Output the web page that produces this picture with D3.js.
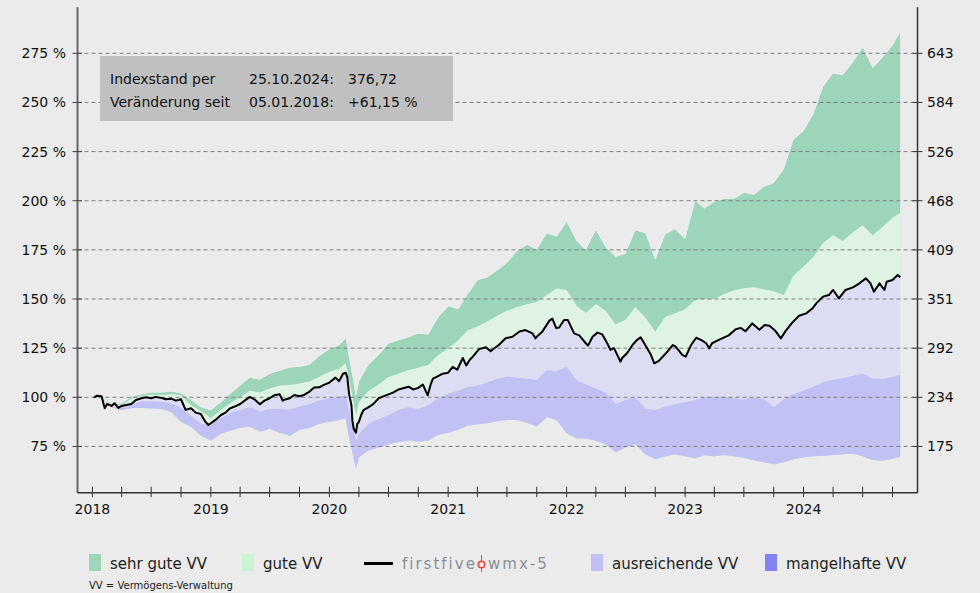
<!DOCTYPE html>
<html>
<head>
<meta charset="utf-8">
<script src="https://cdn.jsdelivr.net/npm/d3@7"></script>
<style>
  body { margin: 0; background: #ebebeb; }
  svg { display: block; font-family: "DejaVu Sans", sans-serif; }
</style>
</head>
<body>
<div id="chart"></div>
<script>
const width = 980;
const height = 593;

// band dates (month starts + crash points)
const bandDates = [
  "2018-01-05","2018-02-01","2018-03-01","2018-04-01","2018-05-01","2018-06-01","2018-07-01","2018-08-01","2018-09-01","2018-10-01","2018-11-01","2018-12-01",
  "2019-01-01","2019-02-01","2019-03-01","2019-04-01","2019-05-01","2019-06-01","2019-07-01","2019-08-01","2019-09-01","2019-10-01","2019-11-01","2019-12-01",
  "2020-01-01","2020-02-01","2020-02-20","2020-03-01","2020-03-23","2020-04-01","2020-05-01","2020-06-01","2020-07-01","2020-08-01","2020-09-01","2020-10-01","2020-11-01","2020-12-01",
  "2021-01-01","2021-02-01","2021-03-01","2021-04-01","2021-05-01","2021-06-01","2021-07-01","2021-08-01","2021-09-01","2021-10-01","2021-11-01","2021-12-01",
  "2022-01-01","2022-02-01","2022-03-01","2022-04-01","2022-05-01","2022-06-01","2022-07-01","2022-08-01","2022-09-01","2022-10-01","2022-11-01","2022-12-01",
  "2023-01-01","2023-02-01","2023-03-01","2023-04-01","2023-05-01","2023-06-01","2023-07-01","2023-08-01","2023-09-01","2023-10-01","2023-11-01","2023-12-01",
  "2024-01-01","2024-02-01","2024-03-01","2024-04-01","2024-05-01","2024-06-01","2024-07-01","2024-08-01","2024-09-01","2024-10-01","2024-10-25"
];

// upper edge of "sehr gute VV"
const sehrGuteTop = [
  100.0,100.2,97.0,96.8,100.3,101.6,102.5,102.5,103.0,102.0,98.6,95.0,
  93.4,97.5,101.5,106.0,110.0,109.0,112.0,113.5,115.2,115.5,116.5,121.0,
  124.5,126.6,130.0,121.0,100.5,108.0,116.5,121.5,127.3,129.0,130.5,132.5,132.0,140.6,
  146.3,144.8,152.0,159.5,161.0,164.5,168.5,174.3,177.6,175.0,183.5,181.7,
  189.3,179.5,174.9,185.1,176.5,171.5,173.0,185.0,183.5,170.0,183.0,185.5,
  180.5,200.0,196.0,199.5,201.0,201.0,204.0,203.0,207.0,209.0,216.0,231.0,
  235.5,244.4,258.0,264.7,264.0,270.5,278.0,267.5,273.0,279.0,285.9
];

// border between "sehr gute" and "gute"
const guteTop = [
  100.0,100.3,96.5,96.0,99.2,100.8,101.3,101.2,101.5,101.0,96.0,93.0,
  89.5,93.5,97.0,100.0,103.3,102.5,104.5,106.0,106.3,107.0,108.0,110.5,
  113.0,114.5,117.3,110.0,91.0,97.5,103.5,106.5,110.3,112.0,113.9,115.0,116.5,121.5,
  125.0,129.0,134.0,136.0,138.5,141.5,144.0,146.0,147.3,148.5,152.0,155.4,
  154.6,146.5,143.0,147.5,144.0,137.0,139.5,146.0,140.5,133.5,141.0,142.7,
  144.8,149.5,150.0,150.0,152.5,154.5,155.5,156.0,155.0,154.0,152.0,162.0,
  166.5,171.5,178.5,182.5,179.5,184.0,187.5,182.5,186.8,191.5,193.6
];

// border between "ausreichende" and "mangelhafte"
const mangelhafteTop = [
  100.0,99.8,95.5,94.5,96.0,98.0,98.0,97.8,97.0,94.5,90.5,86.5,
  86.0,89.5,91.9,93.5,95.0,92.7,94.2,94.0,93.8,95.3,96.5,98.5,
  99.5,100.3,101.2,94.0,78.0,81.5,86.5,89.0,91.0,93.5,95.0,94.0,96.0,99.5,
  101.8,103.5,105.0,106.0,107.5,109.5,110.5,110.0,109.5,108.8,113.9,113.1,
  115.6,108.5,106.5,104.5,102.5,96.5,98.6,100.0,94.0,93.6,95.3,96.5,
  97.5,98.6,100.0,100.3,100.3,99.5,98.8,100.0,99.0,95.0,99.0,101.5,
  103.5,105.5,107.8,108.8,109.7,111.0,112.0,109.5,109.3,110.5,111.4
];

// lower edge of "mangelhafte VV"
const mangelhafteBottom = [
  100.0,99.5,95.0,93.6,94.5,94.5,94.4,94.0,92.5,87.5,85.0,80.5,
  78.0,81.5,83.0,84.5,85.0,82.5,84.0,82.0,80.5,83.4,84.5,86.5,
  87.5,88.5,89.3,80.0,63.9,69.5,73.0,74.5,76.0,77.3,78.0,77.5,78.0,81.0,
  82.0,83.5,85.5,86.3,86.8,87.8,88.5,88.5,87.0,85.1,90.0,88.5,
  81.7,79.0,79.0,78.0,76.0,72.0,74.5,76.0,71.0,68.5,70.0,71.0,
  70.0,69.0,70.5,70.0,70.7,70.0,69.3,68.0,67.0,66.0,67.0,68.5,
  69.5,70.0,70.3,70.7,71.0,71.3,70.0,68.1,67.8,68.8,69.8
];

// firstfive wmx-5 index, in % of 05.01.2018
const indexLine = [
  ["2018-01-05",100.0],["2018-01-16",100.8],["2018-01-29",100.6],["2018-02-08",94.4],["2018-02-15",96.6],["2018-03-01",95.6],
  ["2018-03-10",97.0],["2018-03-22",94.6],["2018-04-01",95.6],["2018-04-15",96.1],["2018-05-01",96.6],["2018-05-15",98.6],
  ["2018-06-01",99.5],["2018-06-15",100.0],["2018-07-01",99.5],["2018-07-15",100.2],["2018-08-01",99.7],["2018-08-15",99.0],
  ["2018-09-01",99.3],["2018-09-15",98.3],["2018-10-01",99.0],["2018-10-15",93.6],["2018-11-01",94.4],["2018-11-15",92.2],
  ["2018-12-01",91.5],["2018-12-15",87.6],["2018-12-24",85.9],["2019-01-01",86.8],["2019-01-15",88.5],["2019-02-01",91.0],
  ["2019-02-15",92.2],["2019-03-01",94.4],["2019-03-15",95.3],["2019-04-01",96.6],["2019-04-15",98.3],["2019-05-01",100.2],
  ["2019-05-15",99.0],["2019-06-01",96.5],["2019-06-15",98.3],["2019-07-01",99.5],["2019-07-15",101.0],["2019-08-01",101.5],
  ["2019-08-10",98.3],["2019-08-15",98.8],["2019-09-01",99.5],["2019-09-15",101.2],["2019-10-01",100.5],["2019-10-15",101.2],
  ["2019-11-01",102.9],["2019-11-15",105.0],["2019-12-01",105.1],["2019-12-15",106.3],["2020-01-01",107.5],["2020-01-20",110.0],
  ["2020-01-31",108.2],["2020-02-12",112.0],["2020-02-20",112.5],["2020-02-25",110.5],["2020-03-02",101.5],["2020-03-09",96.0],
  ["2020-03-12",88.0],["2020-03-16",84.0],["2020-03-23",82.0],["2020-03-27",86.5],["2020-04-01",87.5],["2020-04-08",91.0],
  ["2020-04-15",93.5],["2020-05-01",95.0],["2020-05-15",96.5],["2020-06-01",99.5],["2020-06-15",100.5],["2020-07-01",101.5],
  ["2020-07-15",102.4],["2020-08-01",104.0],["2020-08-15",104.6],["2020-09-01",105.4],["2020-09-15",104.0],["2020-10-01",104.8],
  ["2020-10-15",106.5],["2020-10-30",101.0],["2020-11-09",107.0],["2020-11-15",109.5],["2020-12-01",110.8],["2020-12-15",112.0],
  ["2021-01-01",112.5],["2021-01-15",115.5],["2021-01-29",114.0],["2021-02-15",120.0],["2021-02-26",116.2],["2021-03-08",119.0],
  ["2021-03-18",120.7],["2021-04-06",124.5],["2021-04-27",125.5],["2021-05-12",123.5],["2021-05-18",124.3],["2021-06-06",126.6],
  ["2021-06-27",130.0],["2021-07-18",130.8],["2021-08-09",133.5],["2021-08-27",134.2],["2021-09-18",132.5],["2021-09-27",130.0],
  ["2021-10-05",131.5],["2021-10-18",133.4],["2021-11-09",139.0],["2021-11-18",140.0],["2021-11-30",135.2],["2021-12-09",135.5],
  ["2021-12-24",139.3],["2022-01-05",139.3],["2022-01-24",132.5],["2022-02-09",131.5],["2022-03-01",127.5],["2022-03-08",126.3],
  ["2022-03-22",130.8],["2022-04-06",132.9],["2022-04-21",132.0],["2022-05-06",127.5],["2022-05-16",124.1],["2022-05-27",125.0],
  ["2022-06-16",118.1],["2022-06-21",120.0],["2022-07-06",122.4],["2022-07-23",126.6],["2022-08-06",129.2],["2022-08-17",130.5],
  ["2022-09-03",125.8],["2022-09-18",121.5],["2022-09-28",117.3],["2022-10-12",118.5],["2022-11-03",122.4],["2022-11-24",126.6],
  ["2022-12-03",125.8],["2022-12-24",121.5],["2023-01-03",120.7],["2023-01-18",126.2],["2023-02-04",130.3],["2023-02-19",129.2],
  ["2023-03-07",127.5],["2023-03-16",124.9],["2023-03-25",127.5],["2023-04-15",129.2],["2023-05-15",131.5],["2023-06-06",134.6],
  ["2023-06-21",135.3],["2023-07-06",133.6],["2023-07-27",137.6],["2023-08-18",134.4],["2023-09-03",136.8],["2023-09-18",136.4],
  ["2023-10-06",133.8],["2023-10-23",130.0],["2023-11-07",133.8],["2023-11-27",138.0],["2023-12-18",141.5],["2024-01-09",142.7],
  ["2024-01-29",145.3],["2024-02-09",147.8],["2024-03-01",151.2],["2024-03-19",152.0],["2024-04-01",154.6],["2024-04-19",150.3],
  ["2024-05-09",154.6],["2024-06-01",155.9],["2024-06-21",158.0],["2024-07-11",160.5],["2024-07-25",158.0],["2024-08-05",153.7],
  ["2024-08-22",158.0],["2024-09-06",154.6],["2024-09-13",158.8],["2024-10-01",159.7],["2024-10-17",162.2],["2024-10-25",161.15]
];

const percentTicks = [75, 100, 125, 150, 175, 200, 225, 250, 275];
const lastValue = 376.72;
const lastChange = 61.15;
const baseValue = lastValue / (1 + lastChange / 100);

const infoLines = [
  ["Indexstand per", "25.10.2024:", "376,72"],
  ["Veränderung seit", "05.01.2018:", "+61,15 %"]
];

const legendItems = [
  { label: "sehr gute VV", color: "#9dd5bb", x: 89 },
  { label: "gute VV", color: "#cbf4d3", x: 242 },
  { label: "ausreichende VV", color: "#c0c0f4", x: 591 },
  { label: "mangelhafte VV", color: "#8282f0", x: 765 }
];

const parse = d3.utcParse("%Y-%m-%d");

const plotLeft = 77.5, plotRight = 917.5, plotTop = 7.3, plotBottom = 492.7;

const x = d3.scaleUtc()
  .domain([parse("2017-11-16"), parse("2024-12-17")])
  .range([plotLeft, plotRight]);

const y = d3.scaleLinear()
  .domain([100, 275])
  .range([397.3, 53.3]);

const bands = bandDates.map((d, i) => ({
  date: parse(d),
  top: sehrGuteTop[i],
  upper: guteTop[i],
  lower: mangelhafteTop[i],
  bottom: mangelhafteBottom[i]
}));
const line = indexLine.map(d => ({ date: parse(d[0]), value: d[1] }));

const svg = d3.select("#chart")
  .append("svg")
  .attr("width", width)
  .attr("height", height);

svg.append("rect")
  .attr("width", width)
  .attr("height", height)
  .attr("fill", "#ebebeb");

// envelope clip: everything between the top and bottom edge
svg.append("clipPath")
  .attr("id", "envelope")
  .append("path")
  .attr("d", d3.area()
    .x(d => x(d.date))
    .y0(d => y(d.bottom))
    .y1(d => y(d.top))(bands));

const layers = svg.append("g").attr("clip-path", "url(#envelope)");

function areaDown(get) {
  return d3.area()
    .x(d => x(d.date))
    .y0(plotBottom)
    .y1(d => y(get(d)));
}

layers.append("path").attr("d", areaDown(d => d.top)(bands)).attr("fill", "#9dd5bb");
layers.append("path").attr("d", areaDown(d => d.upper)(bands)).attr("fill", "#dff3e2");
layers.append("path").attr("d", areaDown(d => d.value)(line)).attr("fill", "#dcdcf2");
layers.append("path").attr("d", areaDown(d => d.lower)(bands)).attr("fill", "#c1c1f3");

// grid
svg.append("g")
  .selectAll("line")
  .data(percentTicks)
  .enter()
  .append("line")
  .attr("x1", plotLeft)
  .attr("x2", plotRight)
  .attr("y1", d => y(d))
  .attr("y2", d => y(d))
  .attr("stroke", "#7f7f7f")
  .attr("stroke-width", 1)
  .attr("stroke-dasharray", "4,3");

// left axis
svg.append("line")
  .attr("x1", plotLeft).attr("x2", plotLeft)
  .attr("y1", plotTop).attr("y2", plotBottom)
  .attr("stroke", "#666").attr("stroke-width", 2);

const leftTicks = svg.append("g")
  .selectAll("g")
  .data(percentTicks)
  .enter()
  .append("g");

leftTicks.append("line")
  .attr("x1", 72.5).attr("x2", 82)
  .attr("y1", d => y(d)).attr("y2", d => y(d))
  .attr("stroke", "#444");

leftTicks.append("text")
  .attr("x", 66)
  .attr("y", d => y(d) + 5)
  .attr("text-anchor", "end")
  .attr("font-size", 14)
  .attr("fill", "#111")
  .text(d => d + " %");

// right axis
svg.append("line")
  .attr("x1", plotRight).attr("x2", plotRight)
  .attr("y1", plotTop).attr("y2", plotBottom)
  .attr("stroke", "#333").attr("stroke-width", 1.5);

const rightTicks = svg.append("g")
  .selectAll("g")
  .data(percentTicks)
  .enter()
  .append("g");

rightTicks.append("line")
  .attr("x1", plotRight - 5).attr("x2", plotRight + 5)
  .attr("y1", d => y(d)).attr("y2", d => y(d))
  .attr("stroke", "#333");

rightTicks.append("text")
  .attr("x", 927)
  .attr("y", d => y(d) + 5)
  .attr("font-size", 14)
  .attr("fill", "#111")
  .text(d => Math.round(d / 100 * baseValue));

// bottom axis
svg.append("line")
  .attr("x1", plotLeft).attr("x2", plotRight)
  .attr("y1", plotBottom).attr("y2", plotBottom)
  .attr("stroke", "#333").attr("stroke-width", 1.5);

const quarters = d3.utcMonth.every(3).range(parse("2018-01-01"), parse("2024-10-02"));

svg.append("g")
  .selectAll("line")
  .data(quarters)
  .enter()
  .append("line")
  .attr("x1", d => x(d)).attr("x2", d => x(d))
  .attr("y1", plotBottom - 6).attr("y2", plotBottom + 4.5)
  .attr("stroke", "#333");

svg.append("g")
  .selectAll("text")
  .data(quarters.filter(d => d.getUTCMonth() === 0))
  .enter()
  .append("text")
  .attr("x", d => x(d))
  .attr("y", 514)
  .attr("text-anchor", "middle")
  .attr("font-size", 14)
  .attr("fill", "#111")
  .text(d => d.getUTCFullYear());

// index line
svg.append("path")
  .datum(line)
  .attr("fill", "none")
  .attr("stroke", "#000")
  .attr("stroke-width", 2)
  .attr("stroke-linejoin", "round")
  .attr("d", d3.line().x(d => x(d.date)).y(d => y(d.value)));

// info box
svg.append("rect")
  .attr("x", 100).attr("y", 56)
  .attr("width", 353).attr("height", 65)
  .attr("fill", "#c0c0c0");

const info = svg.append("g")
  .selectAll("g")
  .data(infoLines)
  .enter()
  .append("g")
  .attr("transform", (d, i) => `translate(0,${84 + i * 23})`);

[110, 249, 348].forEach((cx, k) => {
  info.append("text")
    .attr("x", cx)
    .attr("font-size", 14)
    .attr("fill", "#111")
    .text(d => d[k]);
});

// legend
const legend = svg.append("g")
  .selectAll("g")
  .data(legendItems)
  .enter()
  .append("g");

legend.append("rect")
  .attr("x", d => d.x).attr("y", 554)
  .attr("width", 12).attr("height", 17)
  .attr("fill", d => d.color);

legend.append("text")
  .attr("x", d => d.x + 21)
  .attr("y", 569)
  .attr("font-size", 15)
  .attr("fill", "#222")
  .text(d => d.label);

svg.append("line")
  .attr("x1", 364).attr("x2", 393)
  .attr("y1", 563.5).attr("y2", 563.5)
  .attr("stroke", "#000").attr("stroke-width", 3);

svg.append("text")
  .attr("x", 402).attr("y", 569)
  .attr("font-size", 15)
  .attr("letter-spacing", 2)
  .attr("fill", "#8a9099")
  .text("firstfive");

svg.append("line")
  .attr("x1", 481.5).attr("x2", 481.5)
  .attr("y1", 555).attr("y2", 572)
  .attr("stroke", "#e8453c").attr("stroke-width", 1);

svg.append("circle")
  .attr("cx", 481.5).attr("cy", 564.5).attr("r", 3.3)
  .attr("fill", "#ebebeb")
  .attr("stroke", "#e8453c").attr("stroke-width", 1.6);

svg.append("text")
  .attr("x", 488).attr("y", 569)
  .attr("font-size", 15)
  .attr("letter-spacing", 2)
  .attr("fill", "#8a9099")
  .text("wmx-5");

svg.append("text")
  .attr("x", 89).attr("y", 589)
  .attr("font-size", 10)
  .attr("fill", "#222")
  .text("VV = Vermögens-Verwaltung");
</script>
</body>
</html>
